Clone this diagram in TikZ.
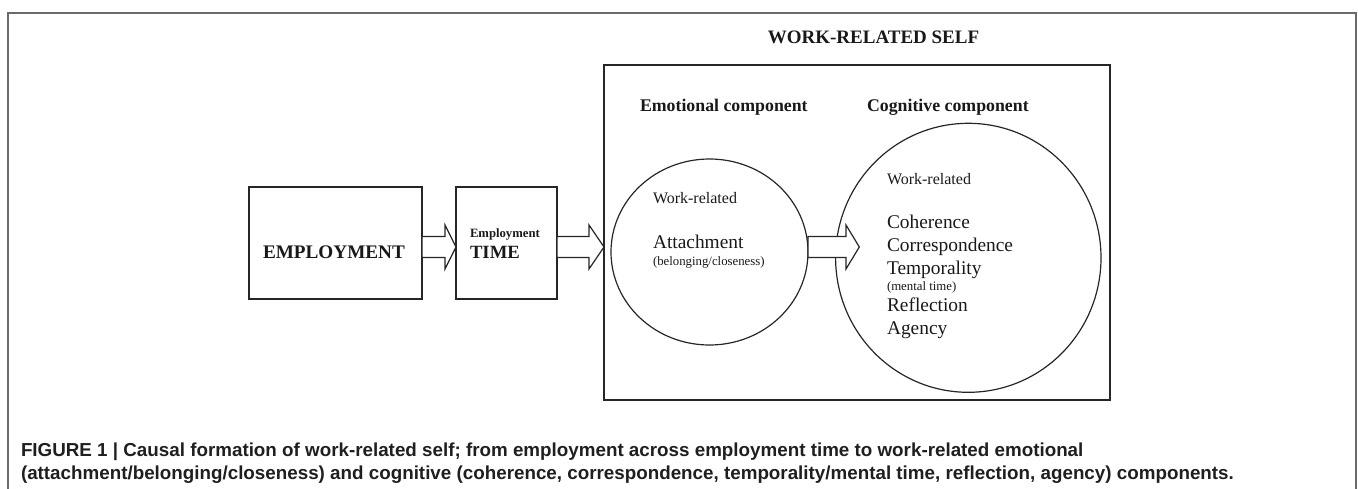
\documentclass[tikz,border=0pt]{standalone}
\usepackage{fontspec}
\setmainfont{Liberation Serif}
\newfontfamily\capfont{Liberation Sans}
\usetikzlibrary{shapes.geometric,calc}

% font size helper (size in pt)
\newcommand\setfs[1]{\fontsize{#1}{#1}\selectfont}

% white block arrow from point #1 to tip #2, head length #3
\newcommand\blockarrow[3]{%
  \filldraw[barrow] let \p1=(#1), \p2=(#2) in
    (\x1,\y1+10.5pt) -- (\x2-#3,\y1+10.5pt) -- (\x2-#3,\y1+22pt) -- (\x2,\y1)
    -- (\x2-#3,\y1-22pt) -- (\x2-#3,\y1-10.5pt) -- (\x1,\y1-10.5pt) -- cycle;}

\begin{document}
\begin{tikzpicture}[x=1pt,y=-1pt,
  box/.style={draw=black!85, line width=1.2pt, rectangle, inner sep=0pt, outer sep=0pt},
  ring/.style={draw=black!85, line width=1.2pt, ellipse, inner sep=0pt, outer sep=0pt},
  barrow/.style={draw=black!85, fill=white, line width=1.2pt, line join=miter},
  txt/.style={anchor=base west, inner sep=0pt, outer sep=0pt, text=black!90},
  frame/.style={draw=black!58, line width=1.8pt}]
\useasboundingbox (0,0) rectangle (1358,488);

% open page frame
\draw[frame] (8,492) -- (8,12.7) -- (1355.7,12.7) -- (1355.7,492);

% row on which the block arrows run
\coordinate (axis) at (0,247);

% boxes
\node[box, minimum width=173, minimum height=112] (emp) at (335.5,243) {};
\node[box, minimum width=101, minimum height=112] (tm) at (506.5,243) {};
\node[box, minimum width=506, minimum height=335] (wrs) at (857,232.5) {};

% components
\node[ring, minimum width=197, minimum height=186] (emo) at (709.5,252) {};
\node[ring, minimum width=265.4, minimum height=269] (cog) at (968.3,257.8) {};

% arrows
\coordinate (tip3) at (859.3,247);
\blockarrow{emp.east |- axis}{tm.west |- axis}{11pt}
\blockarrow{tm.east |- axis}{wrs.west |- axis}{15pt}
\blockarrow{emo.east |- axis}{tip3}{13.3pt}

% labels
\node[txt, anchor=base] (title) at (873.5,43) {\setfs{19}\bfseries WORK-RELATED SELF};
\node[txt] (empl) at (263,258) {\setfs{19.2}\bfseries EMPLOYMENT};
\node[txt] (tml1) at (470,237) {\setfs{12.7}\bfseries Employment};
\node[txt] (tml2) at (470,258) {\setfs{18.7}\bfseries TIME};

\node[txt] (emoh) at (640,111) {\setfs{17.8}\bfseries Emotional component};
\node[txt] (cogh) at (867,111) {\setfs{17.8}\bfseries Cognitive component};

\node[txt] (emo1) at (653,203) {\setfs{16}Work-related};
\node[txt] (emo2) at (653,248) {\setfs{19.4}Attachment};
\node[txt] (emo3) at (653,265) {\setfs{12.8}(belonging/closeness)};

\node[txt] (cog1) at (887,184.7) {\setfs{16}Work-related};
\node[txt] (cog2) at (887,228) {\setfs{19.4}Coherence};
\node[txt] (cog3) at (887,251) {\setfs{19.4}Correspondence};
\node[txt] (cog4) at (887,274) {\setfs{19.4}Temporality};
\node[txt] (cog5) at (887,290) {\setfs{12.8}(mental time)};
\node[txt] (cog6) at (887,311.7) {\setfs{19.4}Reflection};
\node[txt] (cog7) at (887,334) {\setfs{19.4}Agency};

% caption
\node[txt, text=black!88] (cap1) at (21,456) {\capfont\setfs{18.8}\bfseries FIGURE 1 | Causal formation of work-related self; from employment across employment time to work-related emotional};
\node[txt, text=black!88] (cap2) at (21,479) {\capfont\setfs{18.8}\bfseries (attachment/belonging/closeness) and cognitive (coherence, correspondence, temporality/mental time, reflection, agency) components.};
\end{tikzpicture}
\end{document}
